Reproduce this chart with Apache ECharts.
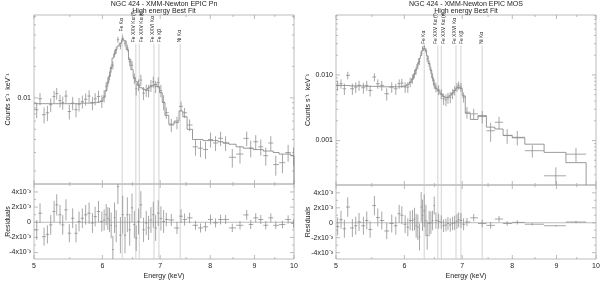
<!DOCTYPE html>
<html><head><meta charset="utf-8">
<script src="https://cdn.jsdelivr.net/npm/echarts@6/dist/echarts.min.js"></script>
<style>html,body{margin:0;padding:0;background:#fff}#c{width:600px;height:283px}</style>
</head><body><div id="c"></div>
<script>
// ---------------- DATA ----------------
// EPIC Pn (left panel): bin centres (keV), rate (counts/s/keV), 1-sigma error (1e-3 counts/s/keV),
// best-fit model (counts/s/keV), residual (1e-3 counts/s/keV)
const pnEnergy = [5.036,5.081,5.136,5.182,5.228,5.275,5.312,5.359,5.398,5.445,5.494,5.543,5.593,5.638,5.688,5.738,5.791,5.843,5.885,5.938,5.991,6.028,
  6.061,6.088,6.115,6.142,6.170,6.197,6.225,6.253,6.295,6.334,6.373,6.413,6.453,6.493,6.534,6.566,6.607,6.648,6.696,6.744,6.786,6.829,6.872,6.915,6.963,7.013,7.064,
  7.115,7.21,7.32,7.40,7.47,7.57,7.69,7.794,7.898,8.005,8.113,8.222,8.333,8.483,8.659,8.815,8.91,9.03,9.152,9.275,9.40,9.526,9.697,9.845,9.987];
const pnRate = [.0077,.0098,.0069,.0072,.0086,.0103,.0110,.0094,.0090,.0104,.0074,.0089,.0077,.0087,.0092,.0097,.0104,.0089,.0098,.0103,.0093,.0104,
  .0128,.0143,.0163,.0191,.0205,.0265,.0285,.0360,.0315,.0370,.0333,.0300,.0222,.0205,.0153,.0122,.0133,.0148,.0111,.0118,.0117,.0131,.0142,.0128,.0140,.0117,.0091,
  .0072,.0055,.0058,.0083,.0072,.0055,.0034,.0033,.0032,.0040,.0037,.0041,.0037,.0027,.0029,.0041,.0033,.0038,.0034,.0028,.0037,.0023,.0024,.0030,.0028];
const pnError = [1.3,1.3,1.2,1.2,1.3,1.4,1.4,1.3,1.3,1.4,1.2,1.3,1.2,1.3,1.3,1.3,1.4,1.3,1.3,1.4,1.3,1.4,
  1.4,1.5,1.6,1.7,1.8,2.0,2.1,2.3,2.4,2.5,2.4,2.3,2.1,1.9,1.8,1.7,1.7,1.8,1.6,1.6,1.6,1.7,1.7,1.7,1.7,1.6,1.5,
  .9,.8,.8,.9,.8,.7,.6,.6,.6,.65,.6,.65,.6,.55,.55,.65,.6,.6,.6,.55,.6,.5,.5,.55,.55];
const pnModel = [.0088,.0088,.0088,.0088,.0088,.0088,.0088,.0088,.0088,.0088,.0088,.0088,.0088,.0088,.0089,.0089,.0089,.0090,.0090,.0091,.0093,.0101,
  .0118,.0138,.0160,.0195,.0240,.0262,.0290,.0313,.0332,.0360,.0350,.0290,.0232,.0186,.0156,.0143,.0132,.0125,.0121,.0119,.0124,.0128,.0132,.0135,.0128,.0112,.0090,
  .0068,.0056,.0060,.0075,.0066,.0050,.0040,.0040,.0039,.0039,.0039,.0038,.0037,.0036,.0034,.0033,.0033,.0032,.0032,.0031,.0031,.0030,.0029,.0029,.0028];
const pnResid = [-1.0,1.2,-1.9,-1.6,-0.35,1.42,2.3,0.98,-0.35,1.64,-1.45,0.53,-1.45,0.09,0.53,0.98,1.2,-0.1,0.75,1.42,0.09,0.3,
  1.0,0.5,0.3,-0.4,-3.6,0.6,-0.5,4.7,-1.7,1.0,-1.7,1.0,-1.0,1.9,-0.3,-2.1,0.1,2.3,-1.0,-0.1,-0.75,0.3,1.0,-0.75,1.2,0.5,0.1,
  .36,.3,-.75,.8,.36,.58,-.4,-.75,-.6,.36,-.08,.36,.36,-.75,-.4,.97,-.3,.58,.36,-.4,.58,-.4,-.3,.36,-.15];

// EPIC MOS (right panel)
const mosEnergy = [5.022,5.067,5.113,5.159,5.223,5.270,5.317,5.379,5.427,5.476,5.539,5.589,5.649,5.724,5.801,5.864,5.917,5.959,6.012,6.055,
  6.093,6.131,6.164,6.191,6.219,6.247,6.275,6.297,6.326,6.354,6.376,6.410,6.439,6.468,6.497,6.526,6.573,6.620,6.661,6.703,6.739,6.781,6.823,6.860,6.903,6.934,6.977,7.026,
  7.089,7.218,7.383,7.551,7.722,7.891,8.107,8.439,8.985,9.48];
const mosRate = [.00693,.00735,.00616,.00986,.00616,.00653,.00693,.00638,.00693,.0058,.0093,.00735,.00693,.00516,.00653,.00616,.00735,.00752,.00653,.00653,
  .00779,.00876,.01046,.01176,.01403,.0160,.0215,.0253,.0268,.0238,.01777,.01489,.01176,.0093,.00735,.00653,.00594,.00516,.00433,.00418,.00448,.00459,.00516,.0058,.00653,.00693,.00653,.00459,
  .0027,.00255,.00232,.00141,.0019,.00119,.00112,.0007,.00029,.00062];
const mosError = [1.2,1.2,1.2,1.3,1.2,1.2,1.2,1.2,1.2,1.1,1.3,1.2,1.2,1.1,1.2,1.2,1.2,1.2,1.2,1.2,
  1.3,1.4,1.5,1.6,1.7,1.8,2.0,2.1,2.2,2.1,1.9,1.7,1.5,1.3,1.2,1.1,1.0,0.9,0.85,0.85,0.85,0.9,0.9,0.95,1.0,1.0,1.0,0.8,
  0.55,0.5,0.5,0.45,0.4,0.3,0.28,0.15,0.1,0.15];
const mosModel = [.0069,.0069,.0069,.0069,.0068,.0068,.0068,.0068,.0067,.0067,.0067,.0067,.0066,.0066,.0066,.0066,.0066,.0067,.0068,.0071,
  .0076,.0086,.0102,.0122,.0147,.0178,.0200,.0235,.0252,.0235,.0195,.0150,.0118,.0090,.0070,.0062,.0057,.0051,.0047,.0045,.0046,.0049,.0053,.0058,.0063,.0065,.0062,.0048,
  .0026,.0021,.0024,.0016,.0015,.0012,.0011,.00088,.00066,.00046];
const mosResid = [-0.5,0.4,-0.8,2.1,-0.7,-0.4,0.1,-0.4,0.3,-0.9,2.3,0.7,0.3,-1.1,-0.1,-0.4,1.2,1.0,-0.2,-0.6,
  0.3,0.3,0.5,-0.4,-0.6,-1.9,2.1,1.0,1.6,0.3,-1.7,-0.1,0.0,0.3,2.3,0.3,0.2,0.1,-0.4,-0.3,-0.1,-0.3,-0.1,0.0,0.2,0.4,0.3,-0.2,
  0.1,0.66,-0.1,-0.35,0.5,-0.1,0.05,-0.2,-0.4,0.1];

// emission lines (observed-frame energies, keV)
const lineEnergy = [6.325, 6.56, 6.62, 6.885, 6.976, 7.383];
const lineNames = ['Fe K\u03b1', 'Fe XXV K\u03b1 (f)', 'Fe XXV K\u03b1 (r)', 'Fe XXVI K\u03b1', 'Fe K\u03b2', 'Ni K\u03b1'];
const pnLineLevel = [0.043, 0.034, 0.034, 0.034, 0.034, 0.034];
const mosLineLevel = [0.0295, 0.0295, 0.0295, 0.0295, 0.0295, 0.0295];

// ticks
const xTicks = [5, 6, 7, 8, 9, 10];
const xTickLabels = ['5', '6', '7', '8', '9', '10'];
const xMinorTicks = [5.5, 6.5, 7.5, 8.5, 9.5];
const pnYTicks = [0.01];
const pnYTickLabels = ['0.01'];
const pnYMinor = [0.002,0.003,0.004,0.005,0.006,0.007,0.008,0.009,0.02,0.03,0.04,0.05,0.06];
const mosYTicks = [0.001, 0.01];
const mosYTickLabels = ['0.001', '0.010'];
const mosYMinor = [0.0003,0.0004,0.0005,0.0006,0.0007,0.0008,0.0009,0.002,0.003,0.004,0.005,0.006,0.007,0.008,0.009,0.02,0.03,0.04,0.05,0.06,0.07,0.08];
const residTicks = [-4, -2, 0, 2, 4];
const residTickLabels = ['-4x10\u207b\u00b3', '-2x10\u207b\u00b3', '0', '2x10\u207b\u00b3', '4x10\u207b\u00b3'];
const residMinor = [-3, -1, 1, 3];

// ---------------- STYLE ----------------
const C_DATA = '#8a8a8a', C_MODEL = '#787878', C_FRAME = '#ababab', C_LINE = '#c8c8c8', C_TEXT = '#222';
const FONT = '"Liberation Sans", Arial, Helvetica, sans-serif';
const LABEL_DX = [-0.5, -2.6, 2.6, -1.2, 1.2, -0.5];

function binEdges(E, lo, hi) {
  const e = [lo];
  for (let i = 1; i < E.length; i++) e.push(Math.sqrt(E[i - 1] * E[i]));
  e.push(hi);
  return e;
}
function seg(x1, y1, x2, y2, color, w) {
  return { type: 'line', shape: { x1, y1, x2, y2 }, style: { stroke: color, lineWidth: w } };
}
function crossSeries(xi, E, V, err, scale, edges, isLog) {
  return {
    type: 'custom', xAxisIndex: xi, yAxisIndex: xi, z: 6, silent: true,
    data: E.map((e, i) => [e, V[i], edges[i], edges[i + 1], err[i] * scale]),
    renderItem(params, api) {
      const cs = params.coordSys, top = cs.y, bot = cs.y + cs.height;
      const cl = y => Math.max(top, Math.min(bot, y));
      const e = api.value(0), v = api.value(1), lo = api.value(2), hi = api.value(3), er = api.value(4);
      const pc = api.coord([e, v]), pl = api.coord([lo, v]), pr = api.coord([hi, v]);
      const yUp = cl(api.coord([e, v + er])[1]);
      const low = v - er;
      const yDn = (isLog && low <= 0) ? bot : cl(api.coord([e, low])[1]);
      return { type: 'group', children: [
        seg(pl[0], pc[1], pr[0], pc[1], C_DATA, 0.75),
        seg(pc[0], yUp, pc[0], yDn, C_DATA, 0.75)
      ] };
    }
  };
}
function modelSeries(xi, edges, M) {
  return {
    type: 'custom', xAxisIndex: xi, yAxisIndex: xi, z: 5, silent: true,
    data: M.map((m, i) => [edges[i], m, edges[i + 1], i < M.length - 1 ? M[i + 1] : '-']),
    renderItem(params, api) {
      const cs = params.coordSys, bot = cs.y + cs.height;
      const lo = api.value(0), m = api.value(1), hi = api.value(2), nx = api.value(3);
      const a = api.coord([lo, m]), b = api.coord([hi, m]);
      const yN = (nx == null || isNaN(nx)) ? bot : api.coord([hi, nx])[1];
      return { type: 'polyline', shape: { points: [a, b, [b[0], Math.min(bot, yN)]] },
        style: { stroke: C_MODEL, lineWidth: 0.75, fill: null } };
    }
  };
}
function lineTopSeries(xi, levels) {
  return {
    type: 'custom', xAxisIndex: xi, yAxisIndex: xi, z: 2, silent: true,
    data: lineEnergy.map((e, i) => [e, levels[i], i]),
    renderItem(params, api) {
      const cs = params.coordSys, bot = cs.y + cs.height;
      const i = api.value(2);
      const p = api.coord([api.value(0), api.value(1)]);
      return { type: 'group', children: [
        seg(p[0], p[1] + 1.5, p[0], bot, C_LINE, 0.8),
        { type: 'text', x: p[0] + LABEL_DX[i], y: p[1], rotation: Math.PI / 2,
          style: { text: lineNames[i], fontSize: 5, fontFamily: FONT, fill: C_TEXT, align: 'left', verticalAlign: 'middle' } }
      ] };
    }
  };
}
function lineResSeries(xi) {
  return {
    type: 'custom', xAxisIndex: xi, yAxisIndex: xi, z: 2, silent: true,
    data: lineEnergy.map(e => [e, 0]),
    renderItem(params, api) {
      const cs = params.coordSys;
      const x = api.coord([api.value(0), 0])[0];
      return seg(x, cs.y, x, cs.y + cs.height, C_LINE, 0.8);
    }
  };
}
function zeroSeries(xi) {
  return {
    type: 'custom', xAxisIndex: xi, yAxisIndex: xi, z: 3, silent: true,
    data: [[7, 0]],
    renderItem(params, api) {
      const cs = params.coordSys;
      const y = api.coord([7, 0])[1];
      return seg(cs.x, y, cs.x + cs.width, y, C_FRAME, 0.8);
    }
  };
}
function xTickSeries(xi, yRef, vals, len, labels) {
  return {
    type: 'custom', xAxisIndex: xi, yAxisIndex: xi, z: 4, silent: true,
    data: vals.map((v, i) => [v, yRef, i]),
    renderItem(params, api) {
      const cs = params.coordSys, bot = cs.y + cs.height;
      const x = api.coord([api.value(0), yRef])[0];
      const ch = [seg(x, bot, x, bot - len, C_FRAME, 0.8), seg(x, cs.y, x, cs.y + len, C_FRAME, 0.8)];
      if (labels) ch.push({ type: 'text', x: x, y: bot + 4,
        style: { text: labels[api.value(2)], fontSize: 7, fontFamily: FONT, fill: C_TEXT, align: 'center', verticalAlign: 'top' } });
      return { type: 'group', children: ch };
    }
  };
}
function yTickSeries(xi, vals, len, labels) {
  return {
    type: 'custom', xAxisIndex: xi, yAxisIndex: xi, z: 4, silent: true,
    data: vals.map((v, i) => [7, v, i]),
    renderItem(params, api) {
      const cs = params.coordSys, right = cs.x + cs.width;
      const y = api.coord([7, api.value(1)])[1];
      const ch = [seg(cs.x, y, cs.x + len, y, C_FRAME, 0.8), seg(right, y, right - len, y, C_FRAME, 0.8)];
      if (labels) ch.push({ type: 'text', x: cs.x - 3, y: y,
        style: { text: labels[api.value(2)], fontSize: 7, fontFamily: FONT, fill: C_TEXT, align: 'right', verticalAlign: 'middle' } });
      return { type: 'group', children: ch };
    }
  };
}

const pnEdges = binEdges(pnEnergy, 5.0, 10.0);
const mosEdges = binEdges(mosEnergy, 5.0, 9.74);

const hidden = { axisLine: { show: false }, axisTick: { show: false }, axisLabel: { show: false }, splitLine: { show: false } };
const nameStyle = { fontSize: 7, color: C_TEXT, fontFamily: FONT };
function xAx(g, withName) {
  return Object.assign({ type: 'log', logBase: 10, gridIndex: g, min: 5, max: 10 }, hidden,
    withName ? { name: 'Energy (keV)', nameLocation: 'middle', nameGap: 14, nameTextStyle: nameStyle } : {});
}
const gridStyle = { show: true, borderColor: C_FRAME, borderWidth: 0.8, backgroundColor: 'transparent' };

const option = {
  animation: false,
  backgroundColor: '#fff',
  title: [
    { text: 'NGC 424 - XMM-Newton EPIC Pn\nHigh energy Best Fit', left: 164, top: 0.5, padding: 0, textAlign: 'center',
      textStyle: { fontSize: 7, lineHeight: 7, fontWeight: 'normal', color: C_TEXT, fontFamily: FONT } },
    { text: 'NGC 424 - XMM-Newton EPIC MOS\nHigh energy Best Fit', left: 466, top: 0.5, padding: 0, textAlign: 'center',
      textStyle: { fontSize: 7, lineHeight: 7, fontWeight: 'normal', color: C_TEXT, fontFamily: FONT } }
  ],
  grid: [
    Object.assign({ left: 34, top: 15, width: 260, height: 169 }, gridStyle),
    Object.assign({ left: 34, top: 184, width: 260, height: 75 }, gridStyle),
    Object.assign({ left: 336, top: 15, width: 260, height: 170 }, gridStyle),
    Object.assign({ left: 336, top: 185, width: 260, height: 74 }, gridStyle)
  ],
  xAxis: [xAx(0, false), xAx(1, true), xAx(2, false), xAx(3, true)],
  yAxis: [
    Object.assign({ type: 'log', logBase: 10, gridIndex: 0, min: 0.0015, max: 0.062, name: 'Counts s\u207b\u00b9  keV\u207b\u00b9',
      nameLocation: 'middle', nameGap: 22, nameTextStyle: nameStyle }, hidden),
    Object.assign({ type: 'value', gridIndex: 1, min: -4.85, max: 5.05, name: 'Residuals',
      nameLocation: 'middle', nameGap: 22, nameTextStyle: nameStyle }, hidden),
    Object.assign({ type: 'log', logBase: 10, gridIndex: 2, min: 0.00021, max: 0.082, name: 'Counts s\u207b\u00b9  keV\u207b\u00b9',
      nameLocation: 'middle', nameGap: 24, nameTextStyle: nameStyle }, hidden),
    Object.assign({ type: 'value', gridIndex: 3, min: -4.85, max: 5.05, name: 'Residuals',
      nameLocation: 'middle', nameGap: 24, nameTextStyle: nameStyle }, hidden)
  ],
  series: [
    // left top
    lineTopSeries(0, pnLineLevel),
    modelSeries(0, pnEdges, pnModel),
    crossSeries(0, pnEnergy, pnRate, pnError, 1e-3, pnEdges, true),
    xTickSeries(0, 0.01, xTicks, 4, null),
    xTickSeries(0, 0.01, xMinorTicks, 2, null),
    yTickSeries(0, pnYTicks, 4, pnYTickLabels),
    yTickSeries(0, pnYMinor, 2, null),
    // left residuals
    lineResSeries(1),
    zeroSeries(1),
    crossSeries(1, pnEnergy, pnResid, pnError, 1, pnEdges, false),
    xTickSeries(1, 0, xTicks, 4, xTickLabels),
    xTickSeries(1, 0, xMinorTicks, 2, null),
    yTickSeries(1, residTicks, 4, residTickLabels),
    yTickSeries(1, residMinor, 2, null),
    // right top
    lineTopSeries(2, mosLineLevel),
    modelSeries(2, mosEdges, mosModel),
    crossSeries(2, mosEnergy, mosRate, mosError, 1e-3, mosEdges, true),
    xTickSeries(2, 0.01, xTicks, 4, null),
    xTickSeries(2, 0.01, xMinorTicks, 2, null),
    yTickSeries(2, mosYTicks, 4, mosYTickLabels),
    yTickSeries(2, mosYMinor, 2, null),
    // right residuals
    lineResSeries(3),
    zeroSeries(3),
    crossSeries(3, mosEnergy, mosResid, mosError, 1, mosEdges, false),
    xTickSeries(3, 0, xTicks, 4, xTickLabels),
    xTickSeries(3, 0, xMinorTicks, 2, null),
    yTickSeries(3, residTicks, 4, residTickLabels),
    yTickSeries(3, residMinor, 2, null)
  ]
};
const chart = echarts.init(document.getElementById('c'), null, { renderer: 'canvas' });
chart.setOption(option);
</script></body></html>
